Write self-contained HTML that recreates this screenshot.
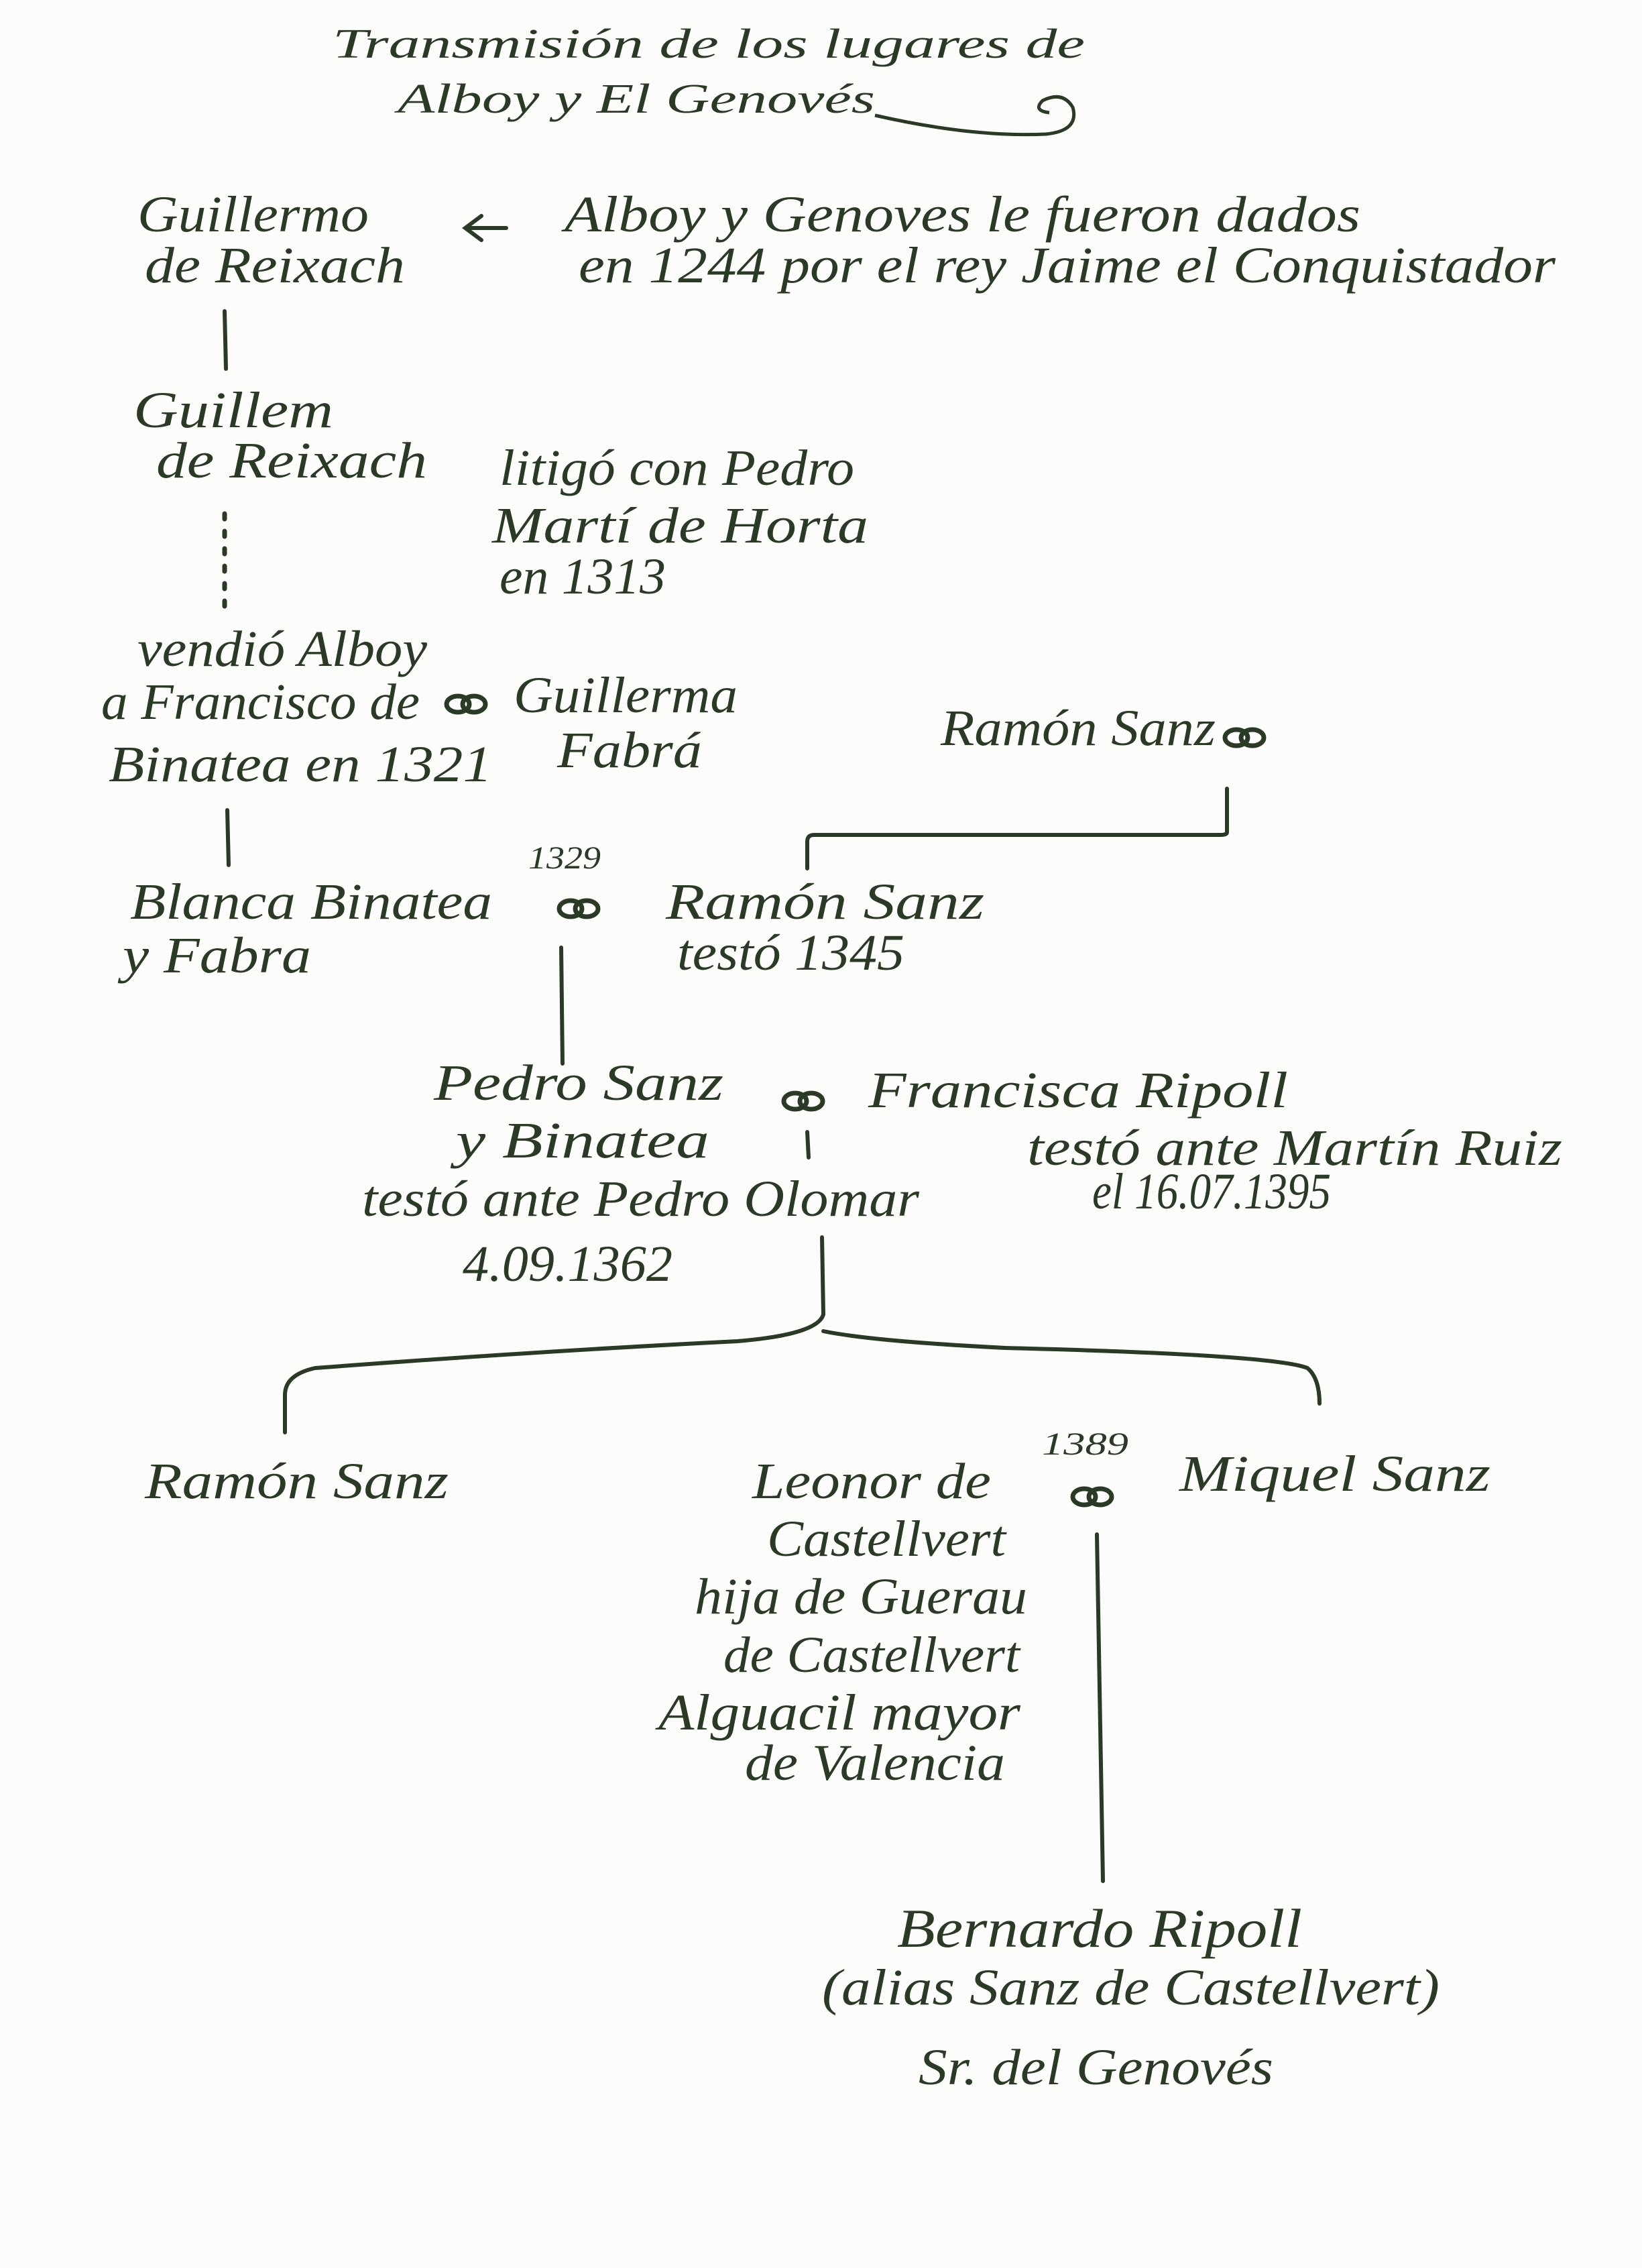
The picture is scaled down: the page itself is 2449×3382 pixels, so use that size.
<!DOCTYPE html>
<html><head><meta charset="utf-8"><style>
html,body{margin:0;padding:0;background:#fcfcfb;}
svg{display:block;}
text{font-family:"Liberation Serif",serif;font-style:italic;fill:#2a3a26;}
</style></head><body>
<svg width="2449" height="3382" viewBox="0 0 2449 3382" xmlns="http://www.w3.org/2000/svg">
<defs>
<g id="m"><ellipse cx="-12" cy="0" rx="17" ry="12" fill="none" stroke="#2a3a26" stroke-width="7"/><ellipse cx="12" cy="0" rx="17" ry="12" fill="none" stroke="#2a3a26" stroke-width="7"/></g>
</defs>
<g font-size="62">
<text x="496" y="86" textLength="1122" lengthAdjust="spacingAndGlyphs">Transmisión de los lugares de</text>
<text x="593" y="168" textLength="712" lengthAdjust="spacingAndGlyphs">Alboy y El Genovés</text>
</g>
<path d="M1305 172 Q1450 205 1560 200 Q1610 195 1600 160 Q1585 135 1555 150 Q1540 165 1565 168" fill="none" stroke="#2a3a26" stroke-width="5"/>
<g font-size="76">
<text x="205" y="345" textLength="345" lengthAdjust="spacingAndGlyphs">Guillermo</text>
<text x="216" y="421" textLength="388" lengthAdjust="spacingAndGlyphs">de Reixach</text>
<text x="842" y="345" textLength="1187" lengthAdjust="spacingAndGlyphs">Alboy y Genoves le fueron dados</text>
<text x="863" y="421" textLength="1457" lengthAdjust="spacingAndGlyphs">en 1244 por el rey Jaime el Conquistador</text>
<text x="199" y="637" textLength="298" lengthAdjust="spacingAndGlyphs">Guillem</text>
<text x="233" y="712" textLength="404" lengthAdjust="spacingAndGlyphs">de Reixach</text>
<text x="745" y="723" textLength="529" lengthAdjust="spacingAndGlyphs">litigó con Pedro</text>
<text x="734" y="809" textLength="561" lengthAdjust="spacingAndGlyphs">Martí de Horta</text>
<text x="745" y="885" textLength="248" lengthAdjust="spacingAndGlyphs">en 1313</text>
<text x="205" y="993" textLength="432" lengthAdjust="spacingAndGlyphs">vendió Alboy</text>
<text x="151" y="1072" textLength="475" lengthAdjust="spacingAndGlyphs">a Francisco de</text>
<text x="766" y="1062" textLength="334" lengthAdjust="spacingAndGlyphs">Guillerma</text>
<text x="162" y="1165" textLength="572" lengthAdjust="spacingAndGlyphs">Binatea en 1321</text>
<text x="831" y="1144" textLength="216" lengthAdjust="spacingAndGlyphs">Fabrá</text>
<text x="1403" y="1111" textLength="410" lengthAdjust="spacingAndGlyphs">Ramón Sanz</text>
<text x="194" y="1370" textLength="540" lengthAdjust="spacingAndGlyphs">Blanca Binatea</text>
<text x="183" y="1450" textLength="281" lengthAdjust="spacingAndGlyphs">y Fabra</text>
<text x="788" y="1295" font-size="48" textLength="108" lengthAdjust="spacingAndGlyphs">1329</text>
<text x="993" y="1370" textLength="475" lengthAdjust="spacingAndGlyphs">Ramón Sanz</text>
<text x="1010" y="1446" textLength="339" lengthAdjust="spacingAndGlyphs">testó 1345</text>
<text x="647" y="1640" textLength="432" lengthAdjust="spacingAndGlyphs">Pedro Sanz</text>
<text x="680" y="1726" textLength="378" lengthAdjust="spacingAndGlyphs">y Binatea</text>
<text x="540" y="1813" textLength="831" lengthAdjust="spacingAndGlyphs">testó ante Pedro Olomar</text>
<text x="690" y="1910" textLength="313" lengthAdjust="spacingAndGlyphs">4.09.1362</text>
<text x="1295" y="1651" textLength="626" lengthAdjust="spacingAndGlyphs">Francisca Ripoll</text>
<text x="1532" y="1737" textLength="798" lengthAdjust="spacingAndGlyphs">testó ante Martín Ruiz</text>
<text x="1629" y="1802" textLength="356" lengthAdjust="spacingAndGlyphs">el 16.07.1395</text>
<text x="216" y="2234" textLength="453" lengthAdjust="spacingAndGlyphs">Ramón Sanz</text>
<text x="1122" y="2234" textLength="356" lengthAdjust="spacingAndGlyphs">Leonor de</text>
<text x="1554" y="2169" font-size="48" textLength="129" lengthAdjust="spacingAndGlyphs">1389</text>
<text x="1759" y="2223" textLength="464" lengthAdjust="spacingAndGlyphs">Miquel Sanz</text>
<text x="1144" y="2320" textLength="356" lengthAdjust="spacingAndGlyphs">Castellvert</text>
<text x="1036" y="2406" textLength="496" lengthAdjust="spacingAndGlyphs">hija de Guerau</text>
<text x="1079" y="2493" textLength="442" lengthAdjust="spacingAndGlyphs">de Castellvert</text>
<text x="982" y="2579" textLength="540" lengthAdjust="spacingAndGlyphs">Alguacil mayor</text>
<text x="1111" y="2654" textLength="388" lengthAdjust="spacingAndGlyphs">de Valencia</text>
<text x="1338" y="2903" font-size="82" textLength="604" lengthAdjust="spacingAndGlyphs">Bernardo Ripoll</text>
<text x="1226" y="2989" textLength="921" lengthAdjust="spacingAndGlyphs">(alias Sanz de Castellvert)</text>
<text x="1370" y="3108" textLength="529" lengthAdjust="spacingAndGlyphs">Sr. del Genovés</text>
</g>
<use href="#m" x="695" y="1050"/>
<use href="#m" x="1856" y="1100"/>
<use href="#m" x="863" y="1355"/>
<use href="#m" x="1198" y="1642"/>
<use href="#m" x="1629" y="2232"/>
<g fill="none" stroke="#2a3a26" stroke-width="6" stroke-linecap="round">
<path d="M755 340 L695 340 M718 322 L694 340 L718 358"/>
<line x1="335" y1="464" x2="337" y2="550"/>
<line x1="335" y1="766" x2="335" y2="906" stroke-dasharray="8 18" stroke-width="7"/>
<path d="M1830 1176 L1830 1241 Q1830 1245 1820 1245 L1214 1245 Q1204 1245 1204 1255 L1204 1295"/>
<line x1="339" y1="1208" x2="341" y2="1290"/>
<line x1="837" y1="1413" x2="839" y2="1586"/>
<line x1="1204" y1="1688" x2="1206" y2="1726"/>
<path d="M1226 1845 L1228 1960 Q1220 1990 1100 2000 Q800 2015 470 2040 Q425 2050 425 2080 L425 2136"/>
<path d="M1228 1985 Q1300 2000 1500 2010 Q1900 2020 1950 2040 Q1968 2055 1968 2093"/>
<line x1="1636" y1="2288" x2="1645" y2="2805"/>
</g>
</svg>
</body></html>
